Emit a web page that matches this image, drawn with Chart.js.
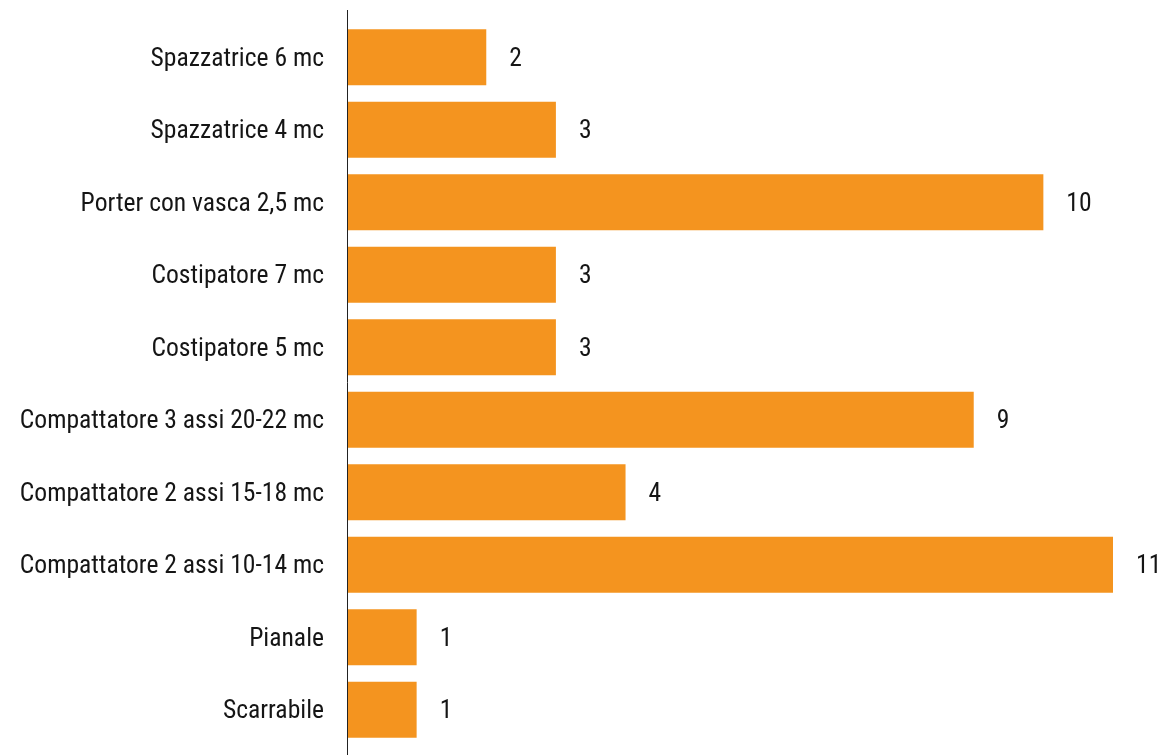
<!DOCTYPE html>
<html>
<head>
<meta charset="utf-8">
<script src="https://cdn.jsdelivr.net/npm/chart.js@4.4.0/dist/chart.umd.min.js"></script>
<style>
  html, body { margin: 0; padding: 0; background: #ffffff; }
  #wrap { position: relative; width: 1167px; height: 755px; }
</style>
</head>
<body>
<div id="wrap"><canvas id="c" width="1167" height="755"></canvas></div>
<script>
const categories = [
  "Spazzatrice 6 mc",
  "Spazzatrice 4 mc",
  "Porter con vasca 2,5 mc",
  "Costipatore 7 mc",
  "Costipatore 5 mc",
  "Compattatore 3 assi 20-22 mc",
  "Compattatore 2 assi 15-18 mc",
  "Compattatore 2 assi 10-14 mc",
  "Pianale",
  "Scarrabile"
];
const values = [2, 3, 10, 3, 3, 9, 4, 11, 1, 1];

const FONT_FAMILY = "'Roboto Condensed', 'Liberation Sans Narrow', 'Arial Narrow', Roboto, sans-serif";
const FONT_SIZE = 25.6;
const BAR_COLOR = "#F4941F";
const TEXT_COLOR = "#151515";

const axisLinePlugin = {
  id: 'axisLine',
  afterDatasetsDraw(chart) {
    const ctx = chart.ctx;
    const x = chart.scales.x.getPixelForValue(0);
    ctx.save();
    ctx.strokeStyle = '#222222';
    ctx.lineWidth = 1;
    ctx.beginPath();
    ctx.moveTo(Math.round(x) + 0.5, 10);
    ctx.lineTo(Math.round(x) + 0.5, 755);
    ctx.stroke();
    ctx.restore();
  }
};

const valueLabelPlugin = {
  id: 'valueLabels',
  afterDatasetsDraw(chart) {
    const ctx = chart.ctx;
    const meta = chart.getDatasetMeta(0);
    ctx.save();
    ctx.font = FONT_SIZE + "px " + FONT_FAMILY;
    ctx.fillStyle = TEXT_COLOR;
    ctx.textAlign = 'left';
    ctx.textBaseline = 'middle';
    meta.data.forEach((bar, i) => {
      ctx.fillText(String(values[i]), bar.x + 23, bar.y + 2);
    });
    ctx.restore();
  }
};

new Chart(document.getElementById('c'), {
  type: 'bar',
  data: {
    labels: categories,
    datasets: [{
      data: values,
      backgroundColor: BAR_COLOR,
      borderWidth: 0,
      barPercentage: 0.772,
      categoryPercentage: 1.0
    }]
  },
  options: {
    indexAxis: 'y',
    responsive: false,
    animation: false,
    devicePixelRatio: 1,
    layout: { padding: { top: 21, bottom: 9, right: 54, left: 0 } },
    plugins: {
      legend: { display: false },
      tooltip: { enabled: false },
      title: { display: false }
    },
    scales: {
      x: {
        display: false,
        min: 0,
        max: 11
      },
      y: {
        grid: { display: false, drawTicks: false },
        border: { display: false },
        ticks: {
          color: TEXT_COLOR,
          padding: 23,
          labelOffset: 2,
          autoSkip: false,
          font: { family: FONT_FAMILY, size: FONT_SIZE }
        },
        afterFit(scale) {
          scale.width = 347;
          scale.paddingTop = 0;
          scale.paddingBottom = 0;
        }
      }
    }
  },
  plugins: [axisLinePlugin, valueLabelPlugin]
});
</script>
</body>
</html>
